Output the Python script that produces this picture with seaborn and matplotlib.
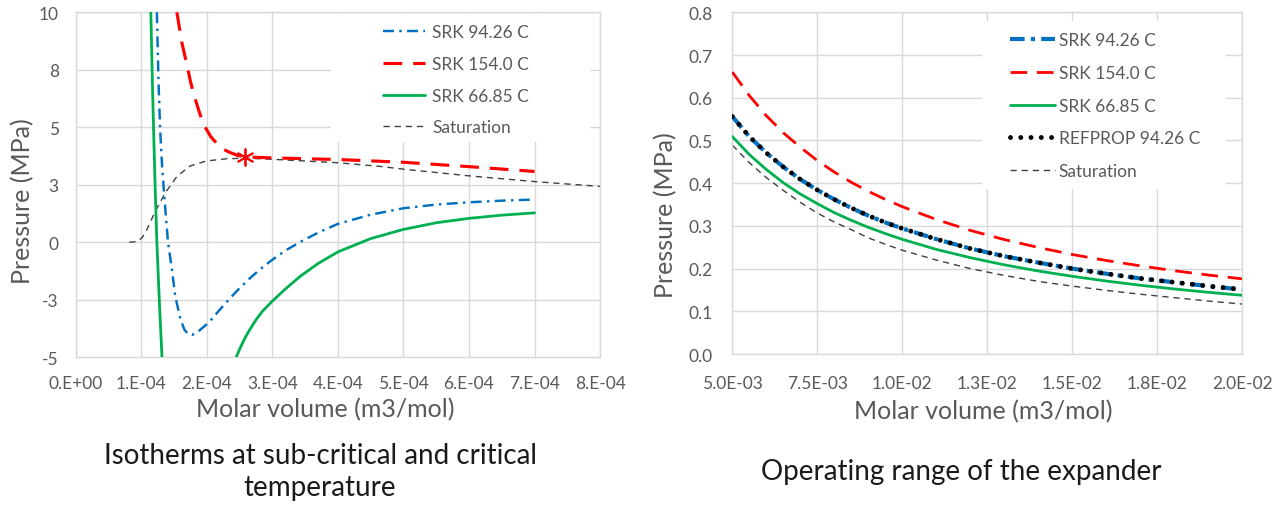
import matplotlib
matplotlib.use("Agg")
import matplotlib.pyplot as plt
import seaborn as sns
from matplotlib.patches import Rectangle

# ---- left panel: isotherms (molar volume m3/mol, pressure MPa) ----
srk_9426_v = [1.24e-4, 1.265e-4, 1.29e-4, 1.32e-4, 1.35e-4, 1.38e-4, 1.41e-4, 1.47e-4,
              1.52e-4, 1.60e-4, 1.66e-4, 1.72e-4, 1.78e-4, 1.85e-4, 2.03e-4, 2.20e-4,
              2.36e-4, 2.50e-4, 2.66e-4, 2.82e-4, 3.00e-4, 3.20e-4, 3.43e-4, 3.70e-4,
              4.00e-4, 4.50e-4, 5.00e-4, 5.50e-4, 6.00e-4, 6.50e-4, 7.00e-4]
srk_9426_p = [10.0, 7.0, 4.9, 3.3, 2.14, 1.05, 0.0, -1.18,
              -2.34, -3.35, -3.80, -4.00, -4.02, -3.93, -3.49, -2.93,
              -2.42, -2.00, -1.56, -1.16, -0.76, -0.36, 0.02, 0.42,
              0.80, 1.20, 1.48, 1.64, 1.74, 1.81, 1.86]

srk_1540_v = [1.545e-4, 1.62e-4, 1.70e-4, 1.76e-4, 1.824e-4, 1.90e-4, 1.977e-4, 2.06e-4,
              2.156e-4, 2.25e-4, 2.36e-4, 2.47e-4, 2.59e-4, 3.0e-4, 4.0e-4, 5.0e-4, 6.0e-4, 7.0e-4]
srk_1540_p = [10.0, 8.7, 7.69, 6.9, 6.24, 5.55, 5.01, 4.60,
              4.29, 4.05, 3.90, 3.78, 3.71, 3.67, 3.60, 3.48, 3.29, 3.08]

srk_6685_liq_v = [1.148e-4, 1.17e-4, 1.19e-4, 1.215e-4, 1.24e-4, 1.28e-4, 1.318e-4]
srk_6685_liq_p = [10.0, 7.2, 4.9, 2.3, 0.0, -2.7, -5.0]
srk_6685_vap_v = [2.45e-4, 2.50e-4, 2.55e-4, 2.60e-4, 2.66e-4, 2.75e-4, 2.85e-4, 3.0e-4,
                  3.2e-4, 3.43e-4, 3.7e-4, 4.0e-4, 4.5e-4, 5.0e-4, 5.5e-4, 6.0e-4,
                  6.5e-4, 7.0e-4]
srk_6685_vap_p = [-5.0, -4.66, -4.36, -4.08, -3.78, -3.38, -3.0, -2.56,
                  -2.03, -1.47, -0.92, -0.42, 0.16, 0.56, 0.85, 1.04,
                  1.18, 1.28]

sat_left_v = [0.82e-4, 0.90e-4, 0.96e-4, 1.02e-4, 1.087e-4, 1.214e-4, 1.366e-4, 1.545e-4,
              1.748e-4, 2.0e-4, 2.3e-4, 2.59e-4, 3.0e-4, 4.0e-4, 4.65e-4, 5.0e-4,
              6.0e-4, 7.0e-4, 8.0e-4]
sat_left_p = [0.0, 0.02, 0.07, 0.22, 0.55, 1.34, 2.14, 2.86,
              3.32, 3.54, 3.63, 3.66, 3.61, 3.46, 3.30, 3.18,
              2.89, 2.64, 2.43]

critical_v = [2.59e-4]
critical_p = [3.70]

left_xticks = [0, 1e-4, 2e-4, 3e-4, 4e-4, 5e-4, 6e-4, 7e-4, 8e-4]
left_xtick_labels = ["0.E+00", "1.E-04", "2.E-04", "3.E-04", "4.E-04",
                     "5.E-04", "6.E-04", "7.E-04", "8.E-04"]
left_yticks = [-5, -2.5, 0, 2.5, 5, 7.5, 10]
left_ytick_labels = ["-5", "-3", "0", "3", "5", "8", "10"]

# ---- right panel: operating range of the expander ----
expander_v = [5.0e-3, 5.5e-3, 6.0e-3, 6.5e-3, 7.0e-3, 7.5e-3, 8.0e-3, 8.5e-3, 9.0e-3, 9.5e-3,
              1.0e-2, 1.1e-2, 1.2e-2, 1.3e-2, 1.4e-2, 1.5e-2, 1.6e-2, 1.7e-2, 1.8e-2, 1.9e-2, 2.0e-2]
exp_srk_9426 = [0.556, 0.509, 0.471, 0.438, 0.409, 0.384, 0.362, 0.342, 0.324, 0.308,
                0.294, 0.269, 0.247, 0.229, 0.214, 0.200, 0.188, 0.177, 0.168, 0.159, 0.151]
exp_srk_1540 = [0.660, 0.605, 0.558, 0.518, 0.484, 0.453, 0.426, 0.402, 0.381, 0.362,
                0.345, 0.315, 0.2895, 0.268, 0.2495, 0.233, 0.219, 0.2065, 0.195, 0.185, 0.176]
exp_srk_6685 = [0.509, 0.467, 0.432, 0.401, 0.3746, 0.352, 0.331, 0.313, 0.2967, 0.282,
                0.2685, 0.245, 0.2256, 0.2088, 0.1944, 0.182, 0.1709, 0.161, 0.1523, 0.1445, 0.1375]
exp_refprop_9426 = [0.556, 0.509, 0.471, 0.438, 0.409, 0.384, 0.362, 0.342, 0.324, 0.308,
                    0.294, 0.269, 0.247, 0.229, 0.214, 0.200, 0.188, 0.177, 0.168, 0.159, 0.151]
exp_saturation = [0.489, 0.448, 0.413, 0.383, 0.355, 0.330, 0.309, 0.291, 0.272, 0.257,
                  0.243, 0.220, 0.200, 0.184, 0.170, 0.159, 0.149, 0.140, 0.132, 0.124, 0.117]

right_xticks = [5.0e-3, 7.5e-3, 1.0e-2, 1.25e-2, 1.5e-2, 1.75e-2, 2.0e-2]
right_xtick_labels = ["5.0E-03", "7.5E-03", "1.0E-02", "1.3E-02", "1.5E-02", "1.8E-02", "2.0E-02"]
right_yticks = [0, 0.1, 0.2, 0.3, 0.4, 0.5, 0.6, 0.7, 0.8]
right_ytick_labels = ["0.0", "0.1", "0.2", "0.3", "0.4", "0.5", "0.6", "0.7", "0.8"]

# ---- styling ----
sns.set_style("white")
plt.rcParams['font.family'] = ['Lato', 'DejaVu Sans']

BLUE = "#0070C0"
RED = "#FF0000"
GREEN = "#00B050"
GRID = "#D9D9D9"
TXT = "#595959"

fig = plt.figure(figsize=(12.85, 5.06), dpi=100)
ax1 = fig.add_axes([0.0588, 0.2919, 0.4082, 0.6818])
ax2 = fig.add_axes([0.5699, 0.2984, 0.3967, 0.6753])


def style_axes(ax, xt, xl, yt, yl, ypad, xpad):
    ax.set_xticks(xt)
    ax.set_xticklabels(xl)
    ax.set_yticks(yt)
    ax.set_yticklabels(yl)
    ax.grid(True, color=GRID, lw=1)
    ax.set_axisbelow(True)
    for s in ax.spines.values():
        s.set_color(GRID)
        s.set_linewidth(1)
    ax.tick_params(axis='both', length=0, labelsize=12.5, colors=TXT)
    ax.tick_params(axis='y', pad=ypad)
    ax.tick_params(axis='x', pad=xpad)


# left panel
sns.lineplot(x=sat_left_v, y=sat_left_p, ax=ax1, color="#404040", lw=1,
             linestyle=(0, (4.5, 3.5)), sort=False, label="Saturation", zorder=2)
sns.lineplot(x=srk_9426_v, y=srk_9426_p, ax=ax1, color=BLUE, lw=1.75,
             linestyle=(0, (4.5, 2.2, 1, 2.2)), sort=False, label="SRK 94.26 C", zorder=3)
sns.lineplot(x=srk_1540_v, y=srk_1540_p, ax=ax1, color=RED, lw=2.25,
             linestyle=(0, (6, 3.5)), sort=False, label="SRK 154.0 C", zorder=3)
sns.lineplot(x=srk_6685_liq_v, y=srk_6685_liq_p, ax=ax1, color=GREEN, lw=2,
             sort=False, label="SRK 66.85 C", zorder=3)
sns.lineplot(x=srk_6685_vap_v, y=srk_6685_vap_p, ax=ax1, color=GREEN, lw=2,
             sort=False, label="_nolegend_", zorder=3)
sns.scatterplot(x=critical_v, y=critical_p, ax=ax1, marker=(6, 2, 0), s=140,
                color=RED, linewidth=1.3, zorder=4, label="_nolegend_")

ax1.set_xlim(0, 8e-4)
ax1.set_ylim(-5, 10)
style_axes(ax1, left_xticks, left_xtick_labels, left_yticks, left_ytick_labels, 12, 13)
ax1.add_patch(Rectangle((0.487, 0.624), 0.494, 0.371, transform=ax1.transAxes,
                        facecolor="white", edgecolor="none", zorder=1))
h, l = ax1.get_legend_handles_labels()
order = ["SRK 94.26 C", "SRK 154.0 C", "SRK 66.85 C", "Saturation"]
hd = dict(zip(l, h))
leg1 = ax1.legend([hd[k] for k in order], order, loc="upper left",
                  bbox_to_anchor=(0.586, 0.965), frameon=False, fontsize=12.5,
                  handlelength=2.4, handletextpad=0.45, labelspacing=0.9,
                  borderpad=0, borderaxespad=0)
for t in leg1.get_texts():
    t.set_color(TXT)

ax1.set_xlabel("Molar volume (m3/mol)", fontsize=18, color=TXT)
ax1.set_ylabel("Pressure (MPa)", fontsize=18, color=TXT)
ax1.xaxis.set_label_coords(0.476, -0.15)
ax1.xaxis.label.set_verticalalignment("center")
ax1.yaxis.set_label_coords(-0.100, 0.4545)
ax1.yaxis.label.set_verticalalignment("center")

# right panel
sns.lineplot(x=expander_v, y=exp_saturation, ax=ax2, color="#404040", lw=1,
             linestyle=(0, (4.5, 3.5)), sort=False, label="Saturation", zorder=2)
sns.lineplot(x=expander_v, y=exp_srk_6685, ax=ax2, color=GREEN, lw=2,
             sort=False, label="SRK 66.85 C", zorder=3)
sns.lineplot(x=expander_v, y=exp_srk_1540, ax=ax2, color=RED, lw=2,
             linestyle=(0, (6, 3.5)), sort=False, label="SRK 154.0 C", zorder=3)
sns.lineplot(x=expander_v, y=exp_srk_9426, ax=ax2, color=BLUE, lw=3,
             linestyle=(0, (3.5, 1.5, 1, 1.5)), sort=False, label="SRK 94.26 C", zorder=3)
sns.lineplot(x=expander_v, y=exp_refprop_9426, ax=ax2, color="black", lw=3.5,
             linestyle=(0, (0.01, 2.1)), dash_capstyle="round", sort=False,
             label="REFPROP 94.26 C", zorder=4)

ax2.set_xlim(5e-3, 2e-2)
ax2.set_ylim(0, 0.8)
style_axes(ax2, right_xticks, right_xtick_labels, right_yticks, right_ytick_labels, 14, 15)
ax2.add_patch(Rectangle((0.49, 0.483), 0.479, 0.492, transform=ax2.transAxes,
                        facecolor="white", edgecolor="none", zorder=1))
h, l = ax2.get_legend_handles_labels()
order2 = ["SRK 94.26 C", "SRK 154.0 C", "SRK 66.85 C", "REFPROP 94.26 C", "Saturation"]
hd = dict(zip(l, h))
leg2 = ax2.legend([hd[k] for k in order2], order2, loc="upper left",
                  bbox_to_anchor=(0.545, 0.941), frameon=False, fontsize=12.5,
                  handlelength=2.6, handletextpad=0.2, labelspacing=0.96,
                  borderpad=0, borderaxespad=0)
for t in leg2.get_texts():
    t.set_color(TXT)

ax2.set_xlabel("Molar volume (m3/mol)", fontsize=18, color=TXT)
ax2.set_ylabel("Pressure (MPa)", fontsize=18, color=TXT)
ax2.xaxis.set_label_coords(0.493, -0.166)
ax2.xaxis.label.set_verticalalignment("center")
ax2.yaxis.set_label_coords(-0.130, 0.41)
ax2.yaxis.label.set_verticalalignment("center")

# captions under each chart
fig.text(320 / 1285, 1 - 471.7 / 506, "Isotherms at sub-critical and critical\ntemperature",
         ha="center", va="center", fontsize=20, color="#1A1A1A", linespacing=1.3)
fig.text(961.7 / 1285, 1 - 471.7 / 506, "Operating range of the expander",
         ha="center", va="center", fontsize=20, color="#1A1A1A")

fig.savefig("out.png", dpi=100)
